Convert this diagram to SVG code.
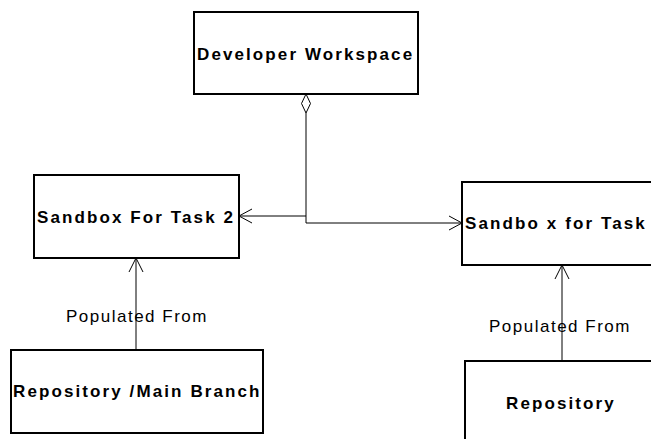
<svg xmlns="http://www.w3.org/2000/svg" width="651" height="439" viewBox="0 0 651 439">
<style>
.box{fill:#fff;stroke:#000;stroke-width:2}
.lbl{font-family:"Liberation Sans",Arial,sans-serif;font-size:17px;font-weight:bold;letter-spacing:2.1px;fill:#000}
.txt{font-family:"Liberation Sans",Arial,sans-serif;font-size:17px;letter-spacing:1.5px;fill:#000}
.ln{fill:none;stroke:#000;stroke-width:1}
</style>
<rect width="651" height="439" fill="#fff"/>
<g id="connectors">
<path class="ln" d="M306,113 V223 H462"/>
<path class="ln" d="M306,216 H239"/>
<path class="ln" d="M252,209 L239,216 L252,223"/>
<path class="ln" d="M449,216 L462,223 L449,230"/>
<path class="ln" d="M136,350 V258"/>
<path class="ln" d="M129,272 L136,258 L143,272"/>
<path class="ln" d="M562,361 V265"/>
<path class="ln" d="M555,279 L562,265 L569,279"/>
<path d="M306,94 L310.5,103.5 L306,113 L301.5,103.5 Z" fill="#fff" stroke="#000" stroke-width="1"/>
<text class="txt" x="66" y="322">Populated From</text>
<text class="txt" x="489" y="332">Populated From</text>
</g>
<g id="developer-workspace">
<rect class="box" x="194" y="12" width="224" height="82"/>
<text class="lbl" x="197" y="60">Developer Workspace</text>
</g>
<g id="sandbox-task-2">
<rect class="box" x="34" y="175" width="205" height="83"/>
<text class="lbl" x="37" y="223">Sandbox For Task 2</text>
</g>
<g id="sandbox-task-1">
<rect class="box" x="462" y="182" width="220" height="83"/>
<text class="lbl" x="465" y="229">Sandbo x for Task 1</text>
</g>
<g id="repository-main">
<rect class="box" x="11" y="350" width="252" height="83"/>
<text class="lbl" x="13" y="397">Repository /Main Branch</text>
</g>
<g id="repository">
<rect class="box" x="465" y="361" width="220" height="90"/>
<text class="lbl" x="506" y="409">Repository</text>
</g>
</svg>
